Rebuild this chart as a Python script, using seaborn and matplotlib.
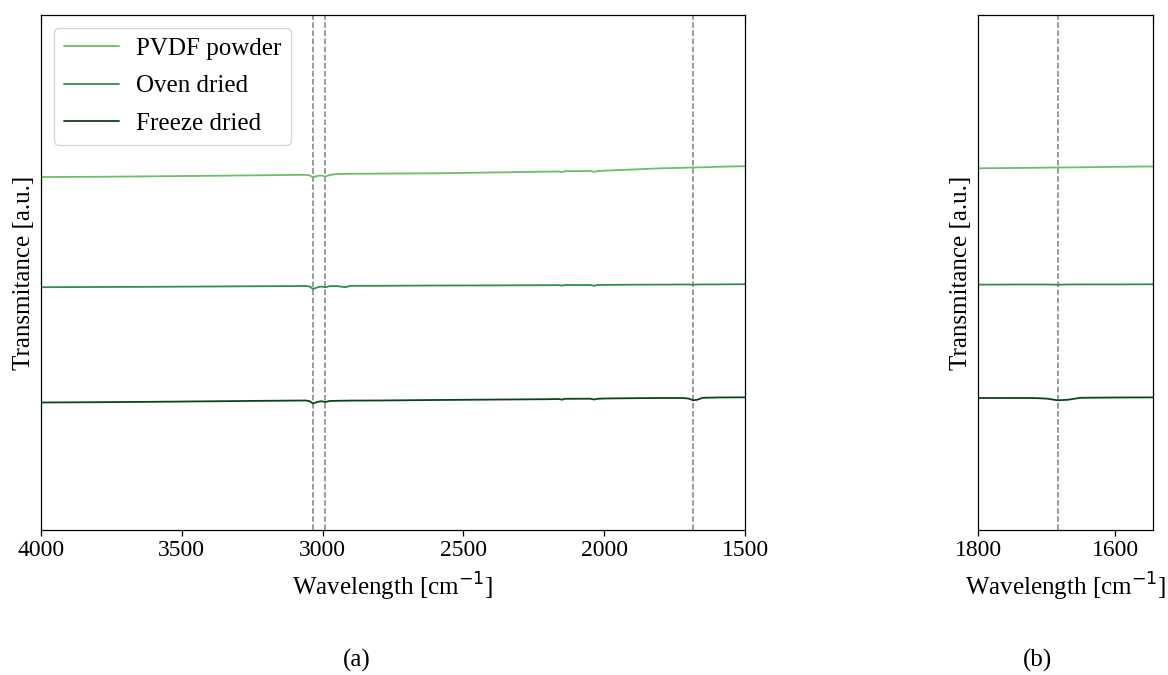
import numpy as np
import pandas as pd
import matplotlib
matplotlib.use("Agg")
import matplotlib.pyplot as plt
import seaborn as sns

# FTIR spectra (offset-stacked, arbitrary transmittance units)
wavenumber = [4000, 3800, 3600, 3400, 3200, 3060, 3045, 3034, 3020, 3005, 2990,
              2975, 2950, 2920, 2900, 2800, 2600, 2400, 2200, 2160, 2150, 2140,
              2050, 2035, 2025, 2000, 1900, 1800, 1720, 1700, 1684, 1670, 1650,
              1600, 1500]

pvdf_powder = [3.530, 3.532, 3.537, 3.542, 3.548, 3.552, 3.545, 3.525, 3.540, 3.545,
               3.535, 3.550, 3.560, 3.561, 3.562, 3.564, 3.567, 3.575, 3.584, 3.585,
               3.578, 3.588, 3.590, 3.582, 3.588, 3.593, 3.605, 3.617, 3.622, 3.624,
               3.625, 3.626, 3.627, 3.632, 3.638]

oven_dried = [2.428, 2.430, 2.432, 2.435, 2.438, 2.440, 2.434, 2.410, 2.425, 2.435,
              2.427, 2.438, 2.440, 2.428, 2.442, 2.442, 2.445, 2.446, 2.448, 2.449,
              2.443, 2.450, 2.450, 2.442, 2.450, 2.451, 2.453, 2.454, 2.455, 2.455,
              2.453, 2.455, 2.456, 2.456, 2.458]

freeze_dried = [1.275, 1.278, 1.282, 1.287, 1.292, 1.295, 1.287, 1.265, 1.280, 1.288,
                1.280, 1.290, 1.292, 1.293, 1.294, 1.295, 1.300, 1.304, 1.308, 1.310,
                1.303, 1.312, 1.313, 1.305, 1.312, 1.315, 1.318, 1.320, 1.320, 1.314,
                1.297, 1.302, 1.322, 1.325, 1.327]

sample_names = ["PVDF powder", "Oven dried", "Freeze dried"]
sample_colors = ["#6abf69", "#2b8f4e", "#08441c"]

# Characteristic band positions marked with dashed lines
bands_full = [3034, 2990, 1684]
bands_zoom = [1684]

df = pd.DataFrame({
    "Wavenumber": wavenumber * 3,
    "Transmittance": pvdf_powder + oven_dried + freeze_dried,
    "Sample": [n for n in sample_names for _ in wavenumber],
})

sns.set_style("ticks", {"axes.edgecolor": "black", "xtick.color": "black",
                        "ytick.color": "black", "text.color": "black",
                        "axes.labelcolor": "black"})
plt.rcParams["font.family"] = ["Liberation Serif", "DejaVu Serif"]
plt.rcParams["axes.linewidth"] = 0.9

fig = plt.figure(figsize=(11.68, 6.75), dpi=100)
ax1 = fig.add_axes([41 / 1168, 1 - 530 / 675, (745 - 41) / 1168, (530 - 15) / 675])
ax2 = fig.add_axes([978 / 1168, 1 - 530 / 675, (1153 - 978) / 1168, (530 - 15) / 675])

palette = dict(zip(sample_names, sample_colors))

sns.lineplot(data=df, x="Wavenumber", y="Transmittance", hue="Sample",
             hue_order=sample_names, palette=palette, linewidth=1.3,
             sort=False, estimator=None, ax=ax1)
sns.lineplot(data=df, x="Wavenumber", y="Transmittance", hue="Sample",
             hue_order=sample_names, palette=palette, linewidth=1.3,
             sort=False, estimator=None, ax=ax2, legend=False)

for b in bands_full:
    ax1.axvline(b, color="#808080", linestyle="--", linewidth=1.1, zorder=0)
for b in bands_zoom:
    ax2.axvline(b, color="#808080", linestyle="--", linewidth=1.1, zorder=0)

ax1.set_xlim(4000, 1500)
ax2.set_xlim(1800, 1545)
ax1.set_xticks([4000, 3500, 3000, 2500, 2000, 1500])
ax2.set_xticks([1800, 1600])

for ax in (ax1, ax2):
    ax.set_ylim(0, 5.15)
    ax.set_yticks([])
    ax.set_xlabel("Wavelength [cm$^{-1}$]", fontsize=18, labelpad=7)
    ax.set_ylabel("Transmitance [a.u.]", fontsize=18)
    ax.tick_params(axis="x", labelsize=17, direction="out", length=4, width=0.9)

sns.move_legend(ax1, "upper left", title=None, fontsize=18, handlelength=2.2,
                handletextpad=0.7, labelspacing=0.6, frameon=True,
                borderaxespad=0.5)

fig.text(357 / 1168, 1 - 660 / 675, "(a)", fontsize=18, ha="center", va="center")
fig.text(1038 / 1168, 1 - 660 / 675, "(b)", fontsize=18, ha="center", va="center")

fig.savefig("out.png", dpi=100)
